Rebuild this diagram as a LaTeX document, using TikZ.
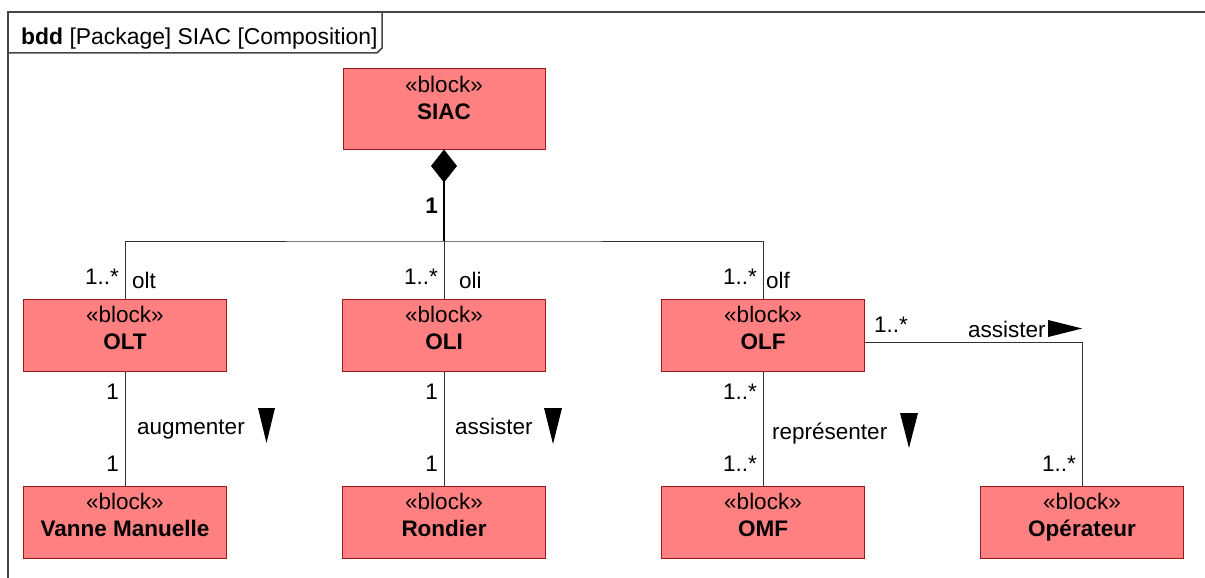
\documentclass[tikz,border=0pt]{standalone}
\usepackage{fontspec}
\setmainfont{Liberation Sans}
\usetikzlibrary{positioning,calc}
\usetikzlibrary{arrows.meta}
\definecolor{BlockRed}{RGB}{255,128,128}
\definecolor{BlockEdge}{RGB}{160,25,25}
\definecolor{FrameGray}{RGB}{70,70,70}
\newcommand{\bddfont}{\fontsize{22.5}{27.5}\selectfont}
\tikzset{
	blk/.style={rectangle,draw=BlockEdge,fill=BlockRed,line width=1pt,minimum width=203pt,minimum height=72pt,inner sep=0pt},
	blktxt/.style={anchor=north,align=center,inner xsep=0pt,inner ysep=7pt,font=\bddfont},
	frame/.style={draw=FrameGray,line width=1.5pt},
	assoc/.style={draw=black!80,line width=1pt},
	comp/.style={draw=black,line width=2pt,{Diamond[length=33pt,width=26pt]}-},
	mult/.style={inner sep=0pt,font=\bddfont},
	dirmark/.style={fill=black},
}

\begin{document}
\begin{tikzpicture}[x=1pt,y=-1pt]
			\useasboundingbox (0,0) rectangle (1205,578);
			\clip (0,0) rectangle (1205,578);
			% frame and tab
			\draw[frame] (8,600) -- (8,12) -- (1220,12);
			\draw[frame] (8,53) -- (377,53) -- (382,48) -- (382,12);
			\node[mult,anchor=base west,font=\fontsize{22.9}{27.5}\selectfont] (title) at (21,45) {\textbf{bdd} [Package] SIAC [Composition]};
			% blocks
			\node[blk,minimum width=202pt,minimum height=80pt] (siac) at (444,109) {};
			\node[blk] (olt) at (125,335) {};
			\node[blk] (oli) at (444,335) {};
			\node[blk] (olf) at (763,335) {};
			\node[blk] (vanne) at (125,522) {};
			\node[blk] (rondier) at (444,522) {};
			\node[blk] (omf) at (763,522) {};
			\node[blk] (oper) at (1082,522) {};
			\node[blktxt] (siac-t) at (siac.north) {«block»\\\textbf{SIAC}};
			\node[blktxt] (olt-t) at (olt.north) {«block»\\\textbf{OLT}};
			\node[blktxt] (oli-t) at (oli.north) {«block»\\\textbf{OLI}};
			\node[blktxt] (olf-t) at (olf.north) {«block»\\\textbf{OLF}};
			\node[blktxt] (vanne-t) at (vanne.north) {«block»\\\textbf{Vanne Manuelle}};
			\node[blktxt] (rondier-t) at (rondier.north) {«block»\\\textbf{Rondier}};
			\node[blktxt] (omf-t) at (omf.north) {«block»\\\textbf{OMF}};
			\node[blktxt] (oper-t) at (oper.north) {«block»\\\textbf{Opérateur}};
			% composition tree
			\coordinate (jct) at (444,241);
			\draw[comp] (siac.south) -- (jct);
			\draw[assoc] (olt.north) |- (jct) -| (olf.north);
			\draw[assoc] (jct) -- (oli.north);
			\node[mult,anchor=east] (m-siac) at (438,206) {\textbf{1}};
			\node[mult,anchor=east] (m-olt) at (119,277) {1..*};
			\node[mult,anchor=base west] (r-olt) at (132,288) {olt};
			\node[mult,anchor=east] (m-oli) at (438,277) {1..*};
			\node[mult,anchor=base west] (r-oli) at (459,288) {oli};
			\node[mult,anchor=east] (m-olf) at (757,277) {1..*};
			\node[mult,anchor=base west] (r-olf) at (766,288) {olf};
			% associations
			\draw[assoc] (olt.south) -- (vanne.north);
			\node[mult,anchor=east] (m-olt-a) at (119,392) {1};
			\node[mult,anchor=east] (m-vanne) at (119,464) {1};
			\node[mult,anchor=base west] (aug) at (137,434) {augmenter};
			\fill[dirmark] (258,408) -- (275,408) -- (266.5,443) -- cycle;
			\draw[assoc] (oli.south) -- (rondier.north);
			\node[mult,anchor=east] (m-oli-a) at (438,392) {1};
			\node[mult,anchor=east] (m-rondier) at (438,464) {1};
			\node[mult,anchor=base west] (ass-r) at (455,434) {assister};
			\fill[dirmark] (544,408) -- (562,408) -- (553,444) -- cycle;
			\draw[assoc] (olf.south) -- (omf.north);
			\node[mult,anchor=east] (m-olf-a) at (757,392) {1..*};
			\node[mult,anchor=east] (m-omf) at (757,464) {1..*};
			\node[mult,anchor=base west] (rep) at (772,439) {représenter};
			\fill[dirmark] (900,413) -- (918,413) -- (909,448) -- cycle;
			\draw[assoc] ($(olf.east)+(0,7)$) -| (oper.north);
			\node[mult,anchor=west] (m-olf-b) at (874,325) {1..*};
			\node[mult,anchor=east] (m-oper) at (1076,464) {1..*};
			\node[mult,anchor=base west] (ass-o) at (968,337) {assister};
			\fill[dirmark] (1048,320) -- (1082,328.5) -- (1048,337) -- cycle;
		\end{tikzpicture}
\end{document}
